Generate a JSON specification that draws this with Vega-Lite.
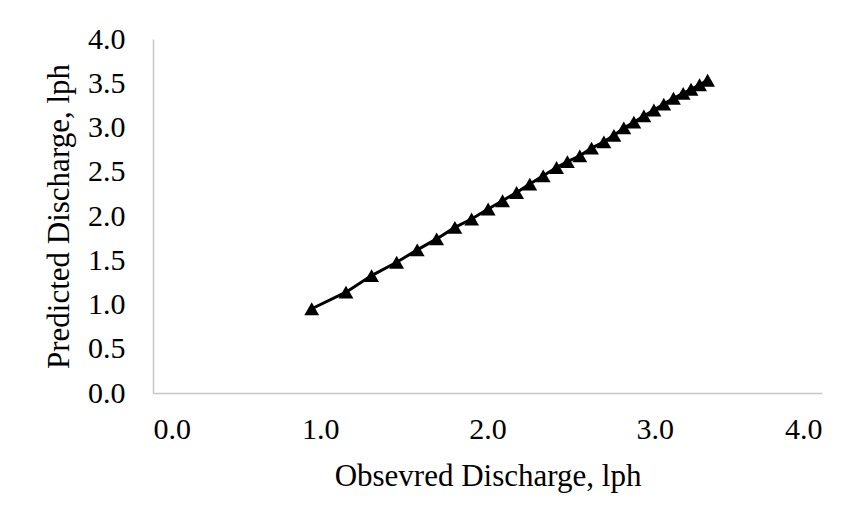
{
  "$schema": "https://vega.github.io/schema/vega-lite/v6.json",
  "width": 669,
  "height": 354,
  "autosize": {"type": "none"},
  "padding": {"left": 153, "top": 39, "right": 39, "bottom": 127},
  "background": "white",
  "config": {"view": {"stroke": null}, "font": "Liberation Serif"},
  "data": {"values": [
    {"obs": 0.949, "pred": 0.952},
    {"obs": 1.154, "pred": 1.139},
    {"obs": 1.307, "pred": 1.327},
    {"obs": 1.457, "pred": 1.477},
    {"obs": 1.580, "pred": 1.617},
    {"obs": 1.696, "pred": 1.741},
    {"obs": 1.805, "pred": 1.871},
    {"obs": 1.905, "pred": 1.966},
    {"obs": 2.004, "pred": 2.079},
    {"obs": 2.090, "pred": 2.172},
    {"obs": 2.174, "pred": 2.266},
    {"obs": 2.253, "pred": 2.361},
    {"obs": 2.333, "pred": 2.454},
    {"obs": 2.413, "pred": 2.548},
    {"obs": 2.478, "pred": 2.614},
    {"obs": 2.552, "pred": 2.680},
    {"obs": 2.622, "pred": 2.767},
    {"obs": 2.696, "pred": 2.838},
    {"obs": 2.756, "pred": 2.911},
    {"obs": 2.815, "pred": 2.995},
    {"obs": 2.875, "pred": 3.060},
    {"obs": 2.935, "pred": 3.131},
    {"obs": 2.995, "pred": 3.198},
    {"obs": 3.054, "pred": 3.264},
    {"obs": 3.112, "pred": 3.330},
    {"obs": 3.170, "pred": 3.385},
    {"obs": 3.217, "pred": 3.432},
    {"obs": 3.268, "pred": 3.483},
    {"obs": 3.316, "pred": 3.534}
  ]},
  "encoding": {
    "x": {
      "field": "obs", "type": "quantitative",
      "scale": {"domain": [0, 4], "nice": false, "zero": false},
      "axis": {
        "values": [0, 1, 2, 3, 4], "format": ".1f", "grid": false, "ticks": false,
        "domainColor": "#c8c8c8", "domainWidth": 1.5,
        "labelFontSize": 30, "labelColor": "#000000", "labelPadding": 21, "labelFont": "Liberation Serif",
        "title": "Obsevred Discharge, lph", "titleFontSize": 31, "titleFontWeight": "normal",
        "titleColor": "#000000", "titlePadding": 17, "titleFont": "Liberation Serif"
      }
    },
    "y": {
      "field": "pred", "type": "quantitative",
      "scale": {"domain": [0, 4], "nice": false, "zero": false},
      "axis": {
        "values": [0, 0.5, 1, 1.5, 2, 2.5, 3, 3.5, 4], "format": ".1f", "grid": false, "ticks": false,
        "domainColor": "#c8c8c8", "domainWidth": 1.5,
        "labelFontSize": 30, "labelColor": "#000000", "labelPadding": 28, "labelFont": "Liberation Serif",
        "title": "Predicted Discharge, lph", "titleFontSize": 31, "titleFontWeight": "normal",
        "titleColor": "#000000", "titlePadding": 12, "titleFont": "Liberation Serif"
      }
    }
  },
  "layer": [
    {"mark": {"type": "line", "color": "#000000", "strokeWidth": 3}},
    {"mark": {"type": "point", "shape": "triangle-up", "filled": true, "color": "#000000", "opacity": 1, "size": 220}}
  ]
}
